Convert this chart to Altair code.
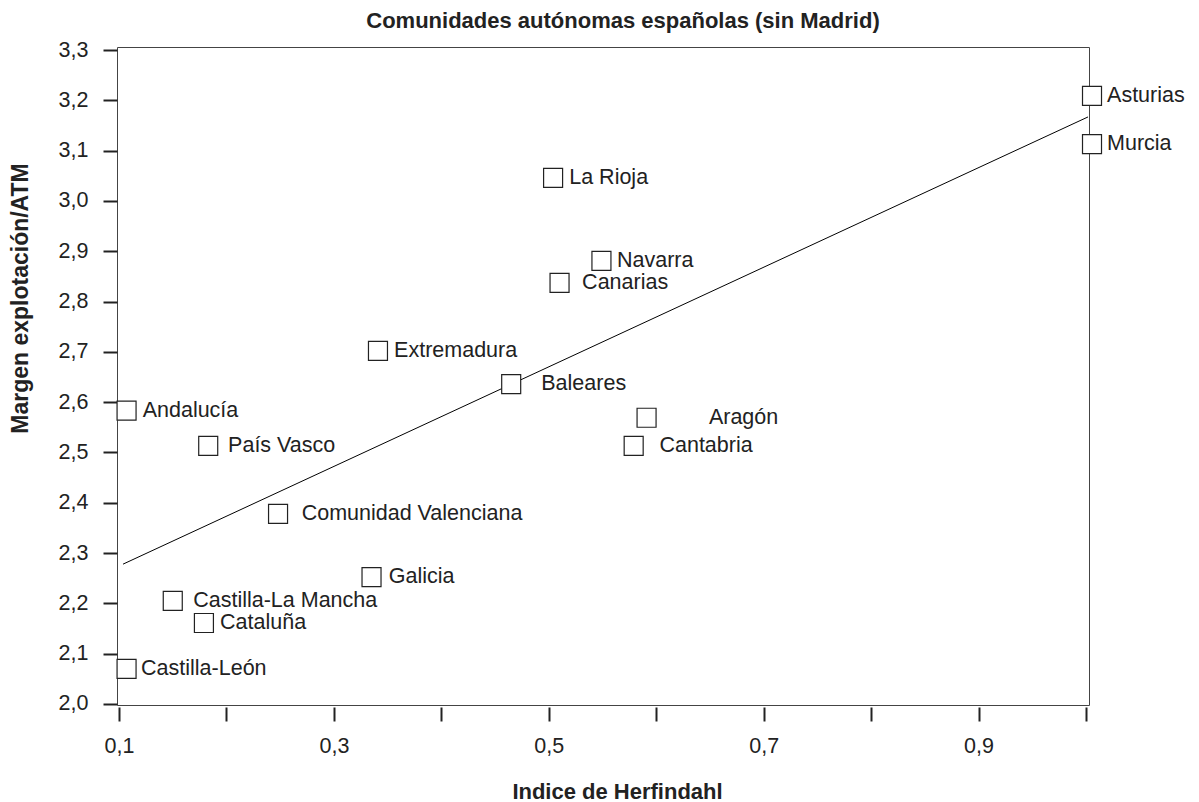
import altair as alt
import pandas as pd

regions = ["Asturias", "Murcia", "La Rioja", "Navarra", "Canarias", "Extremadura",
           "Baleares", "Aragón", "Cantabria", "Andalucía", "País Vasco",
           "Comunidad Valenciana", "Galicia", "Castilla-La Mancha", "Cataluña",
           "Castilla-León"]
herfindahl = [1.0056, 1.0056, 0.504, 0.549, 0.510, 0.341, 0.465, 0.591, 0.579,
              0.107, 0.183, 0.248, 0.335, 0.150, 0.179, 0.107]
margen = [3.209, 3.113, 3.046, 2.881, 2.837, 2.702, 2.636, 2.569, 2.513,
          2.583, 2.513, 2.378, 2.252, 2.205, 2.161, 2.070]
label_x = [1.0196, 1.0196, 0.519, 0.5635, 0.531, 0.356, 0.493, 0.649, 0.603,
           0.122, 0.2015, 0.270, 0.351, 0.169, 0.194, 0.1205]

fit_x = [0.1037, 1.0019]
fit_y = [2.278, 3.167]

x_ticks = [0.1, 0.2, 0.3, 0.4, 0.5, 0.6, 0.7, 0.8, 0.9, 1.0]
y_ticks = [2.0, 2.1, 2.2, 2.3, 2.4, 2.5, 2.6, 2.7, 2.8, 2.9, 3.0, 3.1, 3.2, 3.3]

FONT = "Liberation Sans"
INK = "#222222"

pts = pd.DataFrame({"region": regions, "h": herfindahl, "m": margen, "lx": label_x})
fit = pd.DataFrame({"h": fit_x, "m": fit_y})

xscale = alt.Scale(domain=[0.0981, 1.0028], nice=False, zero=False)
yscale = alt.Scale(domain=[1.998, 3.306], nice=False, zero=False)

xaxis = alt.Axis(
    values=x_ticks,
    labelExpr="indexof(['0.1','0.3','0.5','0.7','0.9'], format(datum.value,'.1f')) >= 0 ? replace(format(datum.value,'.1f'),'.',',') : ''",
    domain=False, grid=False, ticks=True, tickSize=14, tickWidth=2, tickColor=INK,
    offset=2, labelFont=FONT, labelFontSize=21.5, labelColor=INK,
    labelBaseline="alphabetic", labelPadding=31, labelFlush=False, labelOverlap=False,
    title="Indice de Herfindahl", titleFont=FONT, titleFontSize=22,
    titleFontWeight="bold", titleColor=INK, titleX=500, titleY=91,
    titleBaseline="alphabetic", titleAlign="center",
)
yaxis = alt.Axis(
    values=y_ticks,
    labelExpr="replace(format(datum.value,'.1f'),'.',',')",
    domain=False, grid=False, ticks=True, tickSize=14, tickWidth=2, tickColor=INK,
    labelFont=FONT, labelFontSize=21.5, labelColor=INK, labelPadding=15,
    labelBaseline="middle", labelFlush=False, labelOverlap=False,
    title="Margen explotación/ATM", titleFont=FONT, titleFontSize=23,
    titleFontWeight="bold", titleColor=INK, titleAngle=270, titleX=-90, titleY=251,
    titleBaseline="alphabetic", titleAlign="center",
)

line = alt.Chart(fit).mark_line(color="black", strokeWidth=1).encode(
    x=alt.X("h:Q", scale=xscale, axis=xaxis),
    y=alt.Y("m:Q", scale=yscale, axis=yaxis),
)
squares = alt.Chart(pts).mark_point(
    shape="square", filled=True, fill="white", stroke=INK, strokeWidth=1.2,
    size=361, opacity=1,
).encode(
    x=alt.X("h:Q", scale=xscale),
    y=alt.Y("m:Q", scale=yscale),
)
labels = alt.Chart(pts).mark_text(
    align="left", baseline="middle", font=FONT, fontSize=21.5, color=INK,
).encode(
    x=alt.X("lx:Q", scale=xscale),
    y=alt.Y("m:Q", scale=yscale),
    text="region:N",
)

chart = alt.layer(line, squares, labels).properties(
    width=972, height=658,
    title=alt.TitleParams(
        text="Comunidades autónomas españolas (sin Madrid)", font=FONT,
        fontSize=22, fontWeight="bold", color=INK, anchor="middle",
        frame="group", dx=20, offset=-11, baseline="alphabetic",
    ),
    autosize=alt.AutoSizeParams(type="none"),
    padding={"left": 109, "top": 39, "right": 102, "bottom": 110},
).configure_view(stroke="#444444", strokeWidth=1)

chart.save("out.html", embed_options={"renderer": "svg", "actions": False})
